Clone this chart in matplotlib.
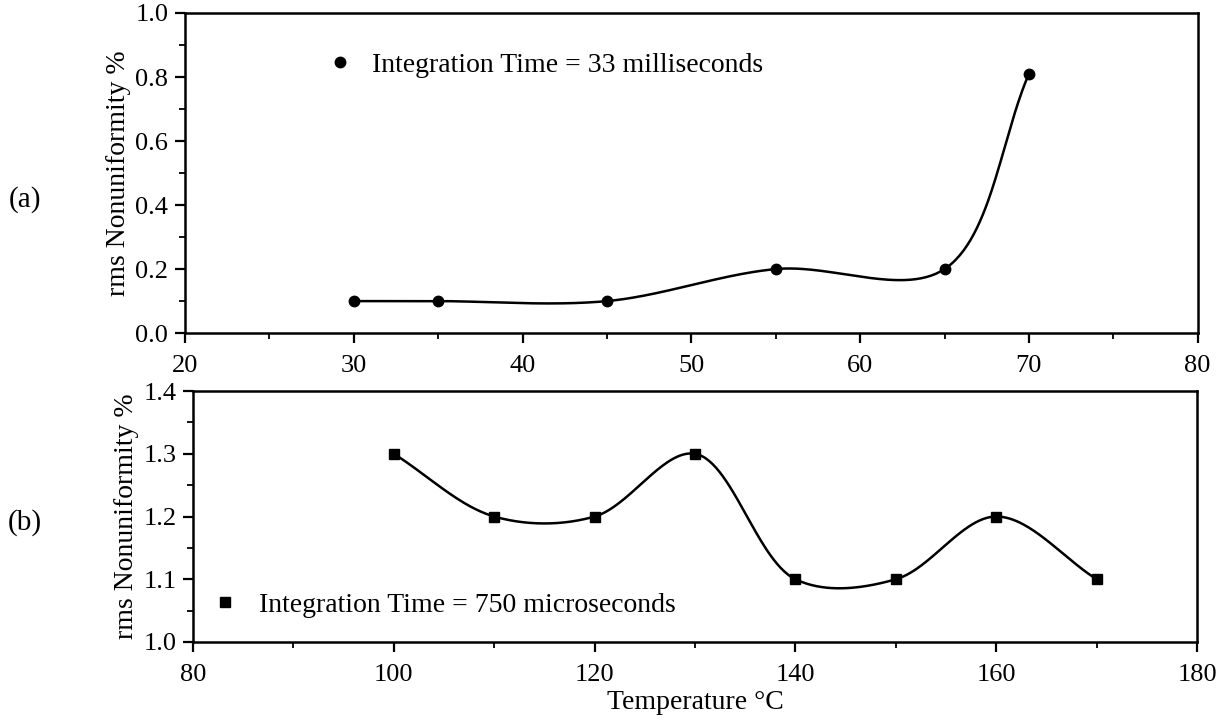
import numpy as np
import matplotlib
matplotlib.use('Agg')
import matplotlib.pyplot as plt
from matplotlib.ticker import MultipleLocator, FormatStrFormatter

# data
temp_a = [30, 35, 45, 55, 65, 70]
nonunif_a = [0.10, 0.10, 0.10, 0.20, 0.20, 0.81]
temp_b = [100, 110, 120, 130, 140, 150, 160, 170]
nonunif_b = [1.30, 1.20, 1.20, 1.30, 1.10, 1.10, 1.20, 1.10]

label_a = 'Integration Time = 33 milliseconds'
label_b = 'Integration Time = 750 microseconds'
ylabel = 'rms Nonuniformity %'
xlabel = 'Temperature \u00b0C'

plt.rcParams['font.family'] = ['Liberation Serif', 'DejaVu Serif']


def smooth(xs, ys, sx, sy, n=60, alpha=0.5):
    # centripetal Catmull-Rom through the points (pixel-ish space)
    P = np.column_stack([np.array(xs, float) * sx, np.array(ys, float) * sy])
    P = np.vstack([2 * P[0] - P[1], P, 2 * P[-1] - P[-2]])
    out = []
    for i in range(1, len(P) - 2):
        p0, p1, p2, p3 = P[i - 1:i + 3]
        t0 = 0.0
        t1 = t0 + np.linalg.norm(p1 - p0) ** alpha
        t2 = t1 + np.linalg.norm(p2 - p1) ** alpha
        t3 = t2 + np.linalg.norm(p3 - p2) ** alpha
        t = np.linspace(t1, t2, n)[:, None]
        A1 = (t1 - t) / (t1 - t0) * p0 + (t - t0) / (t1 - t0) * p1
        A2 = (t2 - t) / (t2 - t1) * p1 + (t - t1) / (t2 - t1) * p2
        A3 = (t3 - t) / (t3 - t2) * p2 + (t - t2) / (t3 - t2) * p3
        B1 = (t2 - t) / (t2 - t0) * A1 + (t - t0) / (t2 - t0) * A2
        B2 = (t3 - t) / (t3 - t1) * A2 + (t - t1) / (t3 - t1) * A3
        out.append((t2 - t) / (t2 - t1) * B1 + (t - t1) / (t2 - t1) * B2)
    C = np.vstack(out)
    return C[:, 0] / sx, C[:, 1] / sy


fig = plt.figure(figsize=(12.23, 7.21), dpi=100)
ax1 = fig.add_axes([0.1513, 0.538, 0.828, 0.444])
ax2 = fig.add_axes([0.1578, 0.1096, 0.821, 0.348])


def style(ax):
    for s in ax.spines.values():
        s.set_linewidth(1.8)
    ax.tick_params(which='major', direction='out', length=7, width=1.6,
                   labelsize=19, pad=5)
    ax.tick_params(which='minor', direction='out', length=4, width=1.3)
    ax.tick_params(axis='x', which='major', pad=9)
    ax.set_ylabel(ylabel, fontsize=20, labelpad=3)


# (a)
xs, ys = smooth(temp_a, nonunif_a, 1013 / 60, 320 / 1.0)
ax1.plot(xs, ys, color='black', lw=1.8)
ax1.plot(temp_a, nonunif_a, 'o', color='black', ms=7.5)
ax1.set_xlim(20, 80)
ax1.set_ylim(0, 1.0)
ax1.xaxis.set_major_locator(MultipleLocator(10))
ax1.xaxis.set_minor_locator(MultipleLocator(5))
ax1.yaxis.set_major_locator(MultipleLocator(0.2))
ax1.yaxis.set_minor_locator(MultipleLocator(0.1))
ax1.yaxis.set_major_formatter(FormatStrFormatter('%.1f'))
style(ax1)
ax1.plot([], [], 'o', color='black', ms=7.5, label=label_a)
ax1.legend(loc='center left', bbox_to_anchor=(0.145, 0.8375), frameon=False,
           fontsize=20, handlelength=0.6, handletextpad=0.86, borderpad=0,
           borderaxespad=0)

# (b)
xs, ys = smooth(temp_b, nonunif_b, 1004 / 100, 251 / 0.4)
ax2.plot(xs, ys, color='black', lw=1.8)
ax2.plot(temp_b, nonunif_b, 's', color='black', ms=6.5)
ax2.set_xlim(80, 180)
ax2.set_ylim(1.0, 1.4)
ax2.xaxis.set_major_locator(MultipleLocator(20))
ax2.xaxis.set_minor_locator(MultipleLocator(10))
ax2.yaxis.set_major_locator(MultipleLocator(0.1))
ax2.yaxis.set_minor_locator(MultipleLocator(0.05))
ax2.yaxis.set_major_formatter(FormatStrFormatter('%.1f'))
style(ax2)
ax2.set_xlabel(xlabel, fontsize=20, labelpad=3)
ax2.plot([], [], 's', color='black', ms=6.5, label=label_b)
ax2.legend(loc='center left', bbox_to_anchor=(0.024, 0.147), frameon=False,
           fontsize=20, handlelength=0.6, handletextpad=0.9, borderpad=0,
           borderaxespad=0)

fig.text(25 / 1223, 1 - 200 / 721, '(a)', fontsize=21, ha='center', va='center')
fig.text(25 / 1223, 1 - 523 / 721, '(b)', fontsize=21, ha='center', va='center')

fig.savefig('out.png', dpi=100)
